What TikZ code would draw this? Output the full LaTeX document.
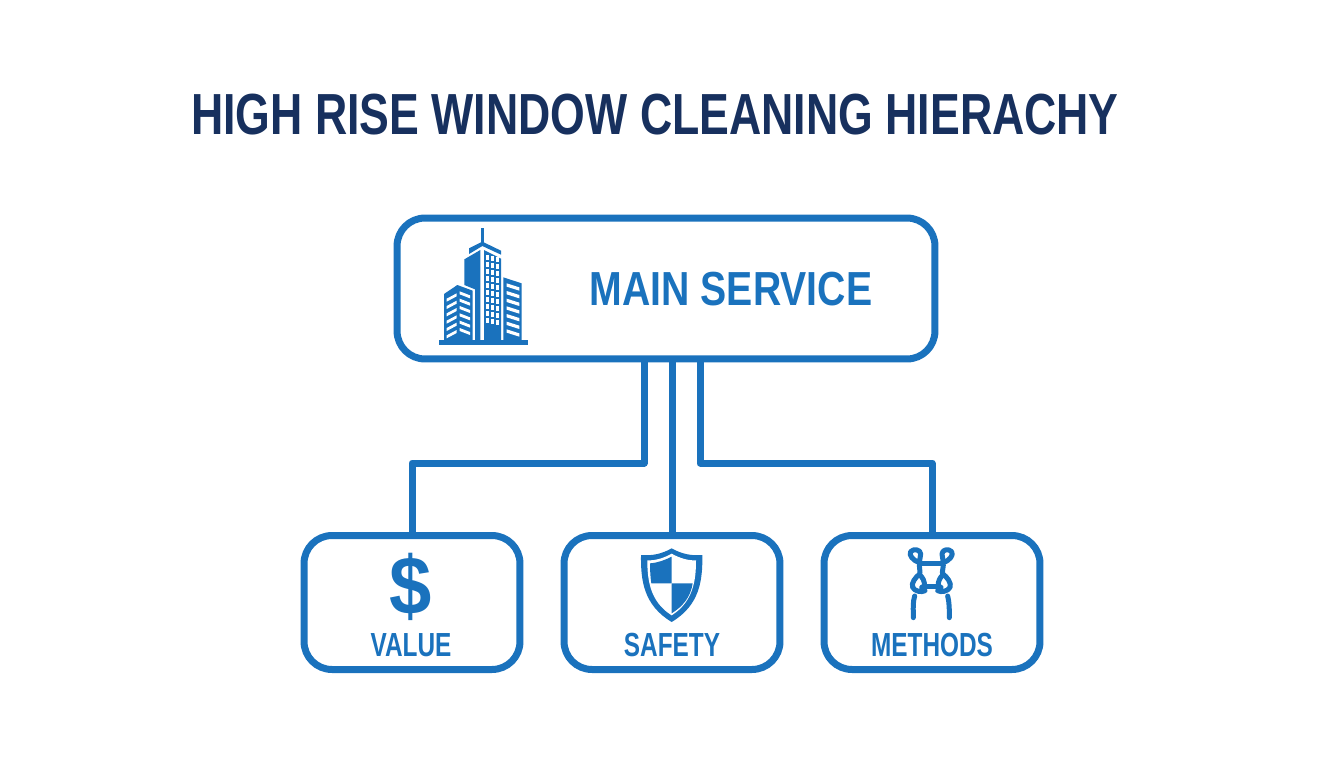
\documentclass[tikz,border=0pt]{standalone}
\usepackage{fontspec}
\setmainfont[FakeStretch=0.82]{Liberation Sans}
\newfontfamily\titlefont[FakeStretch=0.77]{Liberation Sans}
\newfontfamily\smallfont[FakeStretch=0.73]{Liberation Sans}
\newfontfamily\plainfont[FakeStretch=0.92]{Liberation Sans}
\usepackage{xcolor}
\usetikzlibrary{positioning}
\definecolor{hblue}{HTML}{1A72BD}
\definecolor{hnavy}{HTML}{17305E}
\tikzset{
  svcbox/.style={draw=hblue, line width=0.14cm, rounded corners=0.56cm, fill=white, inner sep=0pt},
  kidbox/.style={svcbox, minimum width=4.32cm, minimum height=2.68cm},
  lbl/.style={text=hblue, inner sep=0pt},
  kidlbl/.style={lbl, font=\smallfont\fontsize{19}{22}\selectfont\bfseries},
  link/.style={draw=hblue, line width=0.14cm, line join=round},
  harn/.style={draw=hblue, line width=0.1cm, line cap=round, line join=round}
}
\begin{document}
\begin{tikzpicture}[x=0.02cm, y=-0.02cm]
\useasboundingbox (0,0) rectangle (1344,768);
% title
\node[text=hnavy, font=\titlefont\fontsize{33}{36}\selectfont\bfseries, inner sep=0pt] (title) at (655,115) {HIGH RISE WINDOW CLEANING HIERACHY};
% boxes
\node[svcbox, minimum width=10.76cm, minimum height=2.82cm] (main) at (666,288.5) {};
\node[kidbox] (value) at (412,602.5) {};
\node[kidbox] (safety) at (672,602.5) {};
\node[kidbox] (methods) at (932,602.5) {};
% connectors
\coordinate (tv) at (644,360); \coordinate (bv) at (644,463);
\coordinate (ts) at (672,360);
\coordinate (tm) at (700,360); \coordinate (bm) at (700,463);
\draw[link] (tv) -- (bv) -| (value.north);
\draw[link] (ts) -- (safety.north);
\draw[link] (tm) -- (bm) -| (methods.north);
% labels
\node[lbl, font=\fontsize{27.2}{30}\selectfont\bfseries] (mainlbl) at (731,289) {MAIN SERVICE};
\node[kidlbl] (valuelbl) at (411,645) {VALUE};
\node[kidlbl] (safetylbl) at (672,645) {SAFETY};
\node[kidlbl] (methodslbl) at (932,645) {METHODS};
\node[lbl, font=\plainfont\fontsize{47}{48}\selectfont\bfseries] (dollar) at (411,587) {\$};
% building
\begin{scope}[shift={(420,220)}, x=0.00667cm, y=-0.00667cm]
\fill[hblue] (57,361) rectangle (323,376);
\fill[hblue] (183,25) rectangle (191,75);
\fill[hblue] (147,85) -- (187,65) -- (243,92) -- (243,104) -- (187,78) -- (147,102) -- cycle;
\fill[hblue] (133,118) -- (181,90) -- (181,361) -- (165,361) -- (165,208) -- (133,195) -- cycle;
\fill[hblue] (192,90) -- (243,116) -- (243,361) -- (192,361) -- cycle;
\foreach \r in {0,...,9}
  \foreach \c in {0,1,2}
    \fill[white] (197+\c*15,{106+\c*3+\r*21}) rectangle +(10,13);
\fill[hblue] (250,172) -- (305,190) -- (305,361) -- (250,361) -- cycle;
\foreach \r in {0,...,6}
  \fill[white] (260,{190+\r*23}) -- (298,{202+\r*23}) -- (298,{212+\r*23}) -- (260,{200+\r*23}) -- cycle;
\fill[hblue] (72,222) -- (112,195) -- (158,212) -- (158,361) -- (72,361) -- cycle;
\foreach \r in {0,...,5} {
  \fill[white] (80,{236+\r*22}) -- (110,{220+\r*22}) -- (110,{229+\r*22}) -- (80,{245+\r*22}) -- cycle;
  \fill[white] (119,{214+\r*22}) -- (150,{226+\r*22}) -- (150,{235+\r*22}) -- (119,{223+\r*22}) -- cycle;
}
\end{scope}
% shield
\begin{scope}[shift={(620,530)}, x=0.00667cm, y=-0.00667cm]
\fill[hblue] (155,55) .. controls (125,72) and (95,78) .. (63,75)
  .. controls (62,150) and (70,225) .. (155,276)
  .. controls (240,225) and (248,150) .. (247,75)
  .. controls (215,78) and (185,72) .. (155,55) -- cycle;
\fill[white] (155,71) .. controls (130,85) and (105,92) .. (82,91)
  .. controls (82,150) and (90,215) .. (155,256)
  .. controls (220,215) and (228,150) .. (228,91)
  .. controls (205,92) and (180,85) .. (155,71) -- cycle;
\fill[hblue] (90,100) .. controls (115,98) and (135,90) .. (155,80) -- (155,160) -- (94,160) .. controls (91,140) and (90,120) .. (90,100) -- cycle;
\fill[hblue] (155,160) -- (218,160) .. controls (212,200) and (190,228) .. (155,250) -- cycle;
\end{scope}
% harness
\begin{scope}[shift={(880,530)}, x=0.00667cm, y=-0.00667cm]
\draw[harn] (118,98) .. controls (100,92) and (85,75) .. (92,65) .. controls (100,55) and (122,58) .. (122,72) -- (118,98);
\draw[harn] (190,98) .. controls (208,92) and (222,75) .. (215,65) .. controls (207,55) and (186,58) .. (186,72) -- (190,98);
\draw[harn] (120,101) -- (188,101);
\draw[harn] (118,105) -- (120,128);
\draw[harn] (190,105) -- (187,128);
\draw[harn] (118,133) .. controls (108,140) and (92,160) .. (98,172) .. controls (104,184) and (125,188) .. (135,182) (118,133) .. controls (128,142) and (135,155) .. (133,168) -- (125,172);
\draw[harn] (190,133) .. controls (200,140) and (216,160) .. (210,172) .. controls (204,184) and (183,188) .. (173,182) (190,133) .. controls (180,142) and (173,155) .. (175,168) -- (183,172);
\draw[harn] (136,168) -- (172,168);
\draw[harn] (104,198) .. controls (98,215) and (100,240) .. (100,263);
\draw[harn] (203,198) .. controls (208,215) and (208,240) .. (208,263);
\end{scope}
\end{tikzpicture}
\end{document}
